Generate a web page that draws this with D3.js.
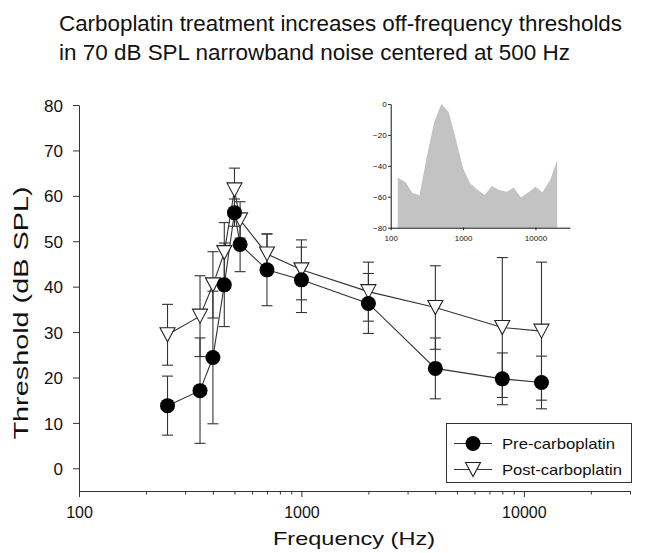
<!DOCTYPE html>
<html><head><meta charset="utf-8">
<script src="https://cdn.jsdelivr.net/npm/d3@7"></script>
<style>
body{margin:0;background:#fff;}
svg{display:block;font-family:"Liberation Sans",Arial,sans-serif;}
</style></head>
<body><svg id="c" width="649" height="553"></svg>
<script>
// ---- data ----
const titleLines = ["Carboplatin treatment increases off-frequency thresholds", "in 70 dB SPL narrowband noise centered at 500 Hz"];
const freqs = [250, 350, 400, 450, 500, 530, 700, 1000, 2000, 4000, 8000, 12000];
const preMean = [13.8, 17.1, 24.4, 40.4, 56.3, 49.3, 43.7, 41.5, 36.3, 22.0, 19.7, 18.9];
const preSD = [6.5, 11.6, 14.6, 9.2, 3.0, 6.0, 7.9, 7.2, 6.6, 6.7, 5.7, 5.8];
const postMean = [29.4, 33.5, 40.4, 47.5, 61.3, 54.7, 47.2, 43.7, 38.9, 35.4, 31.0, 30.2];
const postSD = [6.7, 8.9, 7.3, 6.6, 4.8, 4.0, 4.4, 6.6, 6.5, 9.2, 15.4, 15.2];
const yTicks = [0, 10, 20, 30, 40, 50, 60, 70, 80];
const xMajor = [100, 1000, 10000];
const xMinor = [200, 300, 400, 500, 600, 700, 800, 900, 2000, 3000, 4000, 5000, 6000, 7000, 8000, 9000, 20000, 30000];
const seriesNames = ["Pre-carboplatin", "Post-carboplatin"];
// inset: noise spectrum (1/3-octave bands), dB re peak
const insetFreqs = [125, 160, 200, 250, 315, 400, 500, 630, 800, 1000, 1250, 1600, 2000, 2500, 3150, 4000, 5000, 6300, 8000, 10000, 12500, 16000, 20000];
const insetLevels = [-47.7, -50.5, -57.5, -59, -34, -11.4, 0, -5, -23.3, -41.6, -51.3, -55.6, -58.9, -53, -55.6, -56.7, -54, -60.4, -57, -53.5, -57, -49, -36];
const insetYTicks = [0, -20, -40, -60, -80];
const insetXTicks = [100, 1000, 10000];

const svg = d3.select("#c");
function fit(sel, w){ sel.attr("textLength", w).attr("lengthAdjust", "spacingAndGlyphs"); return sel; }

// title
svg.append("text").attr("x", 59).attr("y", 31).attr("font-size", 22).attr("fill", "#111").text(titleLines[0]).call(fit, 563);
svg.append("text").attr("x", 59).attr("y", 60).attr("font-size", 22).attr("fill", "#111").text(titleLines[1]).call(fit, 511);

// scales
const x = d3.scaleLog().domain([100, 30000]).range([79, 630]);
const y = d3.scaleLinear().domain([-5, 80]).range([491, 105]);

// axes
const gx = svg.append("g").attr("transform", "translate(0,491)");
gx.call(d3.axisBottom(x).tickValues(xMajor).tickSize(6).tickSizeOuter(0).tickFormat(d3.format("d")));
const gxm = svg.append("g").attr("transform", "translate(0,491)");
gxm.call(d3.axisBottom(x).tickValues(xMinor).tickSize(3.5).tickSizeOuter(0).tickFormat(""));
gxm.select(".domain").remove();
gx.selectAll("text").attr("font-size", 16).attr("font-family", "Liberation Sans, Arial").attr("fill", "#111").attr("dy", null).attr("y", 27);
const gy = svg.append("g").attr("transform", "translate(79,0)");
gy.call(d3.axisLeft(y).tickValues(yTicks).tickSize(6).tickSizeOuter(0));
gy.selectAll("text").attr("font-size", 17).attr("font-family", "Liberation Sans, Arial").attr("fill", "#111").attr("x", -16).attr("dy", "0.36em");
svg.selectAll(".domain, .tick line").attr("stroke", "#333").attr("stroke-width", 1);

svg.append("text").attr("x", 354).attr("y", 545).attr("text-anchor", "middle").attr("font-size", 19).attr("fill", "#111").text("Frequency (Hz)").call(fit, 162);
svg.append("text").attr("transform", "translate(28,313) rotate(-90)").attr("text-anchor", "middle").attr("font-size", 21).attr("fill", "#111").text("Threshold (dB SPL)").call(fit, 253);

// data series
const pre = freqs.map((f, i) => ({f, m: preMean[i], s: preSD[i]}));
const post = freqs.map((f, i) => ({f, m: postMean[i], s: postSD[i]}));
const line = d3.line().x(d => x(d.f)).y(d => y(d.m));
const cap = 5.5;
function errBars(data){
  const g = svg.append("g").attr("stroke", "#333").attr("stroke-width", 1.1).attr("fill", "none");
  data.forEach(d => {
    g.append("line").attr("x1", x(d.f)).attr("x2", x(d.f)).attr("y1", y(d.m - d.s)).attr("y2", y(d.m + d.s));
    g.append("line").attr("x1", x(d.f) - cap).attr("x2", x(d.f) + cap).attr("y1", y(d.m + d.s)).attr("y2", y(d.m + d.s));
    g.append("line").attr("x1", x(d.f) - cap).attr("x2", x(d.f) + cap).attr("y1", y(d.m - d.s)).attr("y2", y(d.m - d.s));
  });
}
errBars(pre); errBars(post);
svg.append("path").datum(pre).attr("d", line).attr("fill", "none").attr("stroke", "#333").attr("stroke-width", 1.1);
svg.append("path").datum(post).attr("d", line).attr("fill", "none").attr("stroke", "#333").attr("stroke-width", 1.1);
const tri = "M-7.5,-7L7.5,-7L0,7Z";
svg.append("g").selectAll("path").data(post).join("path")
  .attr("d", tri).attr("transform", d => `translate(${x(d.f)},${y(d.m)})`)
  .attr("fill", "#fff").attr("stroke", "#222").attr("stroke-width", 1.1);
svg.append("g").selectAll("circle").data(pre).join("circle")
  .attr("cx", d => x(d.f)).attr("cy", d => y(d.m)).attr("r", 7.5).attr("fill", "#000");

// legend
const lg = svg.append("g");
lg.append("rect").attr("x", 446.5).attr("y", 423.5).attr("width", 185).attr("height", 59).attr("fill", "#fff").attr("stroke", "#333").attr("stroke-width", 1);
lg.append("line").attr("x1", 454).attr("x2", 492).attr("y1", 443.5).attr("y2", 443.5).attr("stroke", "#333").attr("stroke-width", 1.1);
lg.append("circle").attr("cx", 473).attr("cy", 443.5).attr("r", 7.5).attr("fill", "#000");
lg.append("line").attr("x1", 454).attr("x2", 492).attr("y1", 469.5).attr("y2", 469.5).attr("stroke", "#333").attr("stroke-width", 1.1);
lg.append("path").attr("d", tri).attr("transform", "translate(473,469.5)").attr("fill", "#fff").attr("stroke", "#222").attr("stroke-width", 1.1);
lg.append("text").attr("x", 502).attr("y", 448.5).attr("font-size", 15).attr("fill", "#111").text(seriesNames[0]).call(fit, 113);
lg.append("text").attr("x", 502).attr("y", 475).attr("font-size", 15).attr("fill", "#111").text(seriesNames[1]).call(fit, 120);

// inset
const ix = d3.scaleLog().domain([100, 30000]).range([390.7, 570]);
const iy = d3.scaleLinear().domain([-80, 0]).range([227.7, 104]);
const ins = insetFreqs.map((f, i) => ({f, v: insetLevels[i]}));
svg.append("path").datum(ins)
  .attr("d", d3.area().x(d => ix(d.f)).y0(iy(-80)).y1(d => iy(d.v)))
  .attr("fill", "#c3c3c3");
const igx = svg.append("g").attr("transform", "translate(0,227.7)");
igx.call(d3.axisBottom(ix).tickValues(insetXTicks).tickSize(2.5).tickSizeOuter(0).tickFormat(d3.format("d")));
igx.selectAll("text").attr("font-size", 8).attr("font-family", "Liberation Sans, Arial").attr("fill", "#111").attr("dy", null).attr("y", 13.5);
const igy = svg.append("g").attr("transform", "translate(390.7,0)");
igy.call(d3.axisLeft(iy).tickValues(insetYTicks).tickSize(2.5).tickSizeOuter(0));
igy.selectAll("text").attr("font-size", 8).attr("font-family", "Liberation Sans, Arial").attr("fill", "#111").attr("x", -4).attr("dy", "0.35em");
igx.selectAll(".domain, .tick line").attr("stroke", "#111");
igy.selectAll(".domain, .tick line").attr("stroke", "#111");
</script></body></html>
